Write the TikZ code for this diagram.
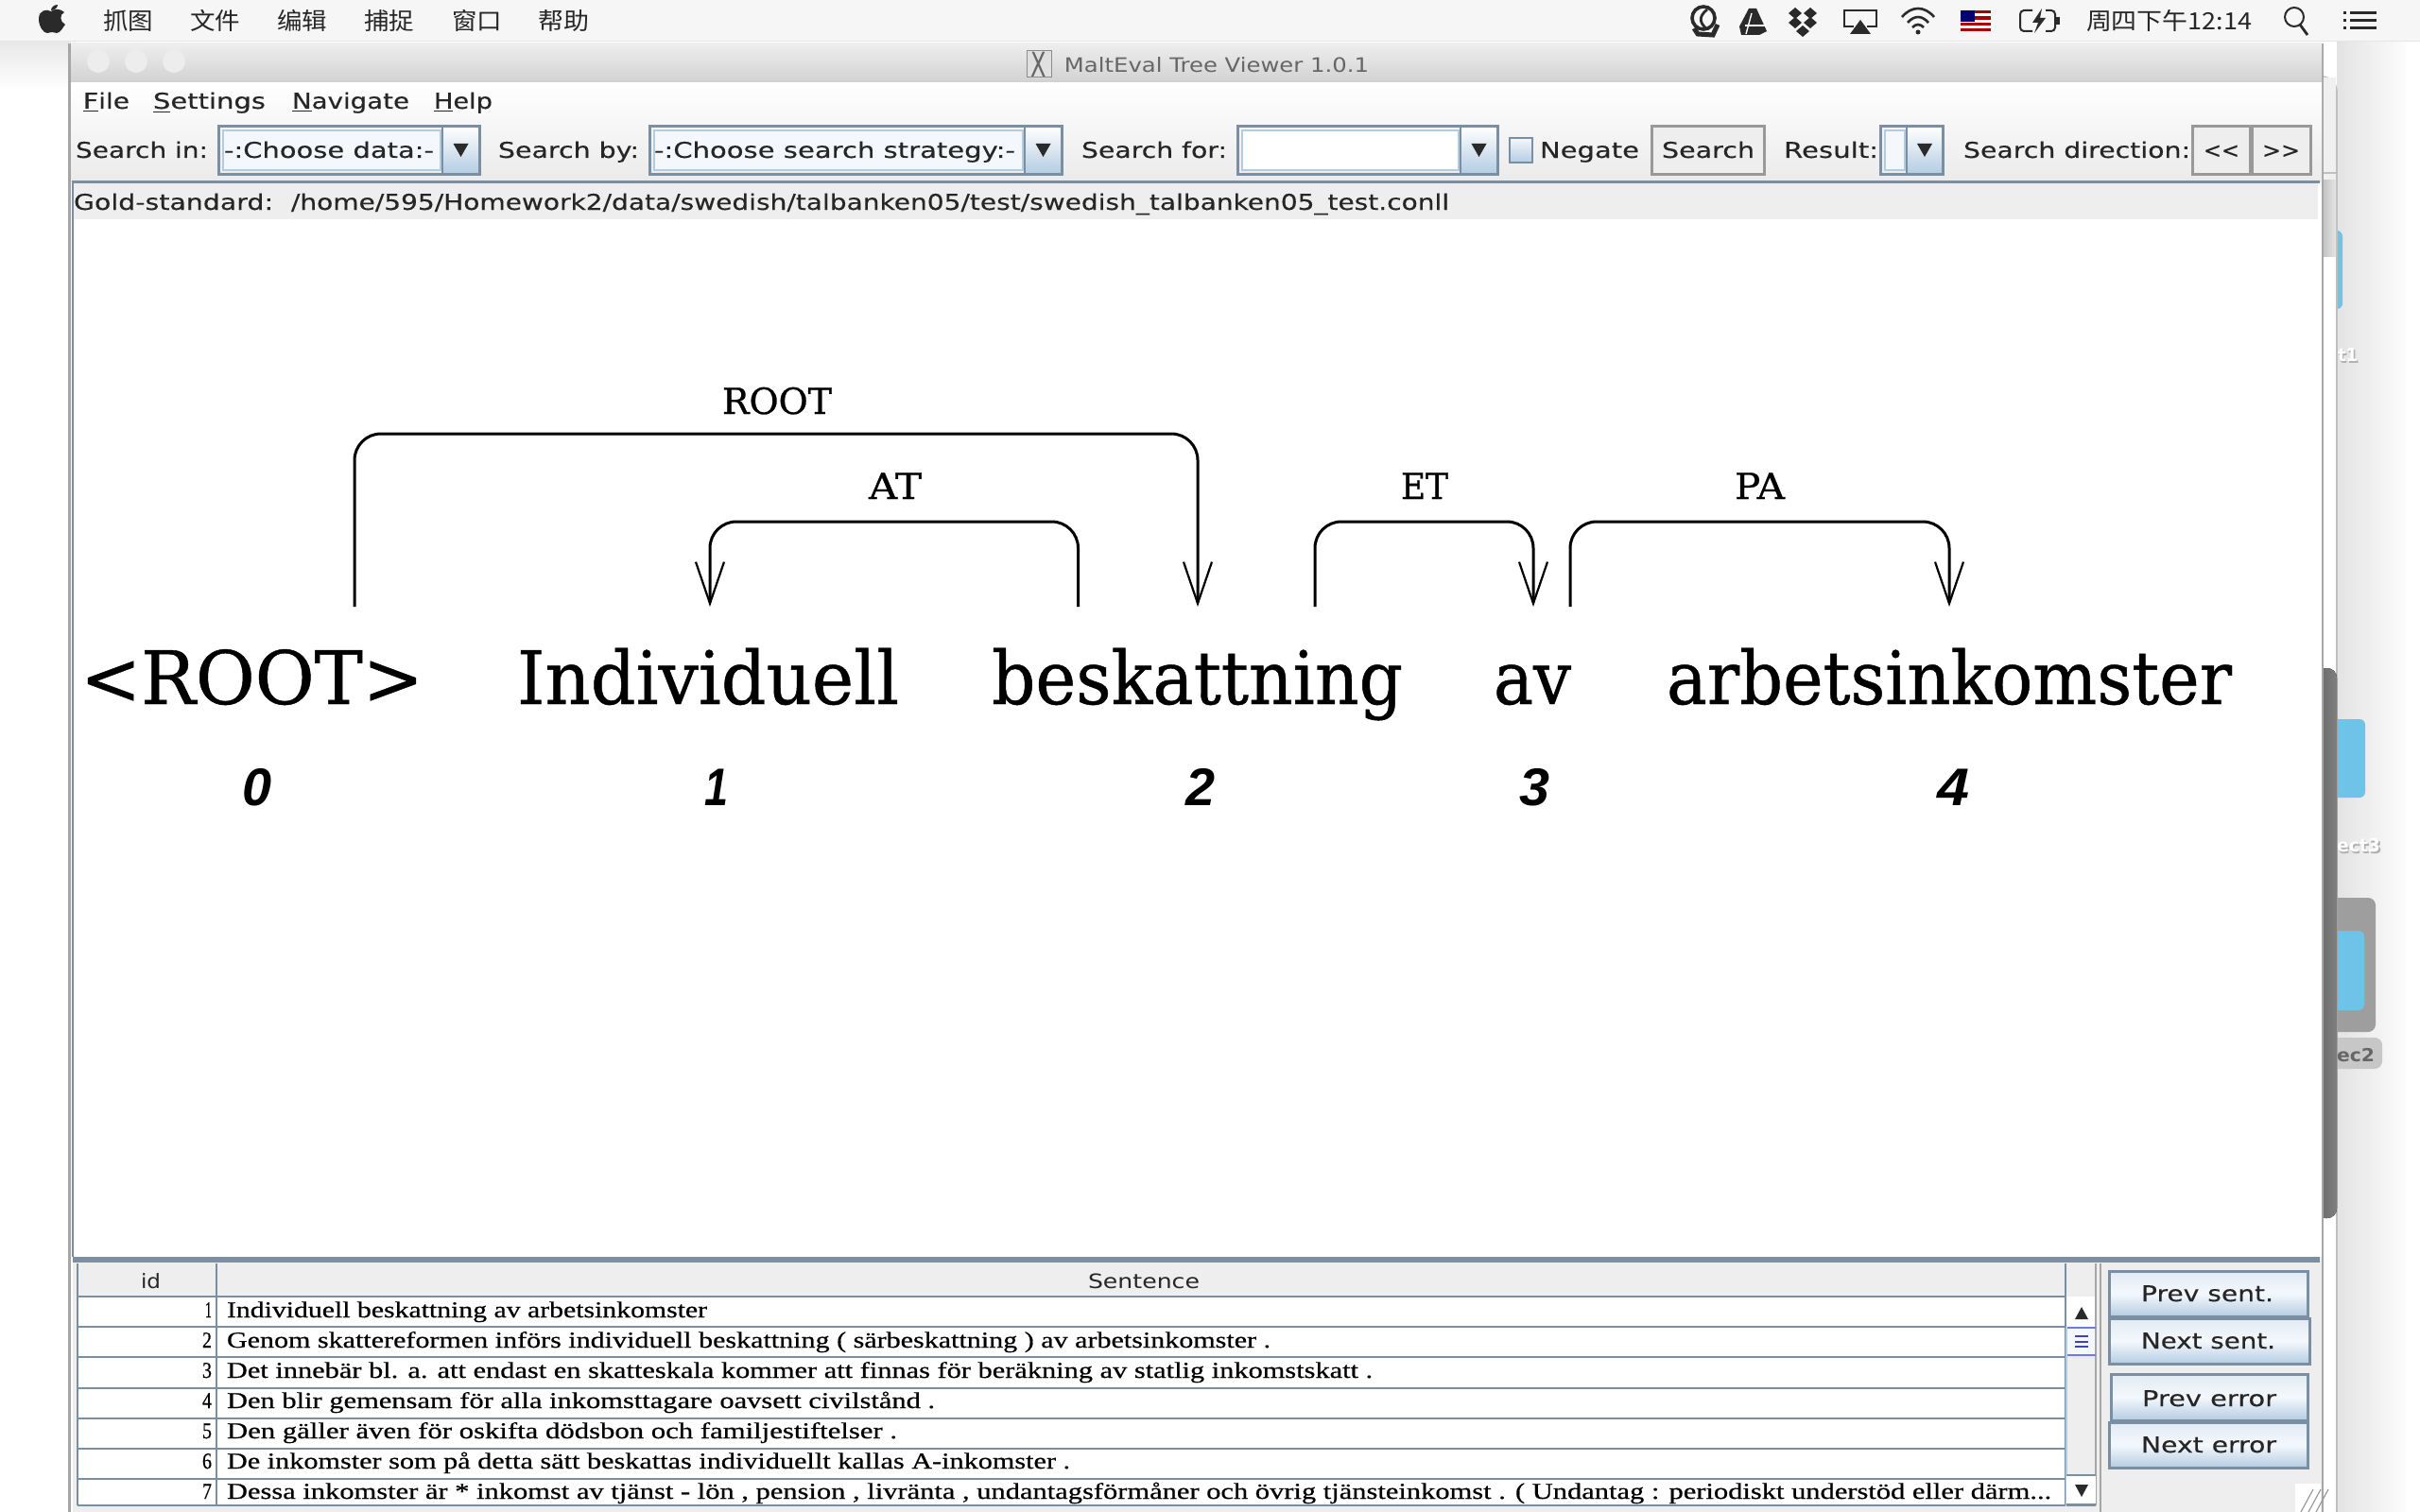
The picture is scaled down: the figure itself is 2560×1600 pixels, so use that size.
\documentclass[tikz,border=0pt]{standalone}
\usepackage{fontspec}
\usepackage{graphicx}
\usetikzlibrary{arrows.meta}
\newfontfamily\uifont[FakeBold=0.25]{DejaVu Sans}
\newfontfamily\plainuifont{DejaVu Sans}
\newfontfamily\cjkfont{Noto Sans CJK SC}
\newfontfamily\tabfont[FakeBold=0.5]{Liberation Serif}
\newfontfamily\bigfont[FakeBold=0.6]{DejaVu Serif}
\newfontfamily\labelfont[FakeBold=0.7]{DejaVu Serif}
\newfontfamily\numfont{Liberation Sans}
\definecolor{bord}{HTML}{7B8FA3}
\definecolor{oceanA}{HTML}{F4F8FC}
\definecolor{oceanB}{HTML}{B4CCE2}
\definecolor{panel}{HTML}{EEEEEE}
\definecolor{iconk}{HTML}{2A2A2A}
\definecolor{folder}{HTML}{6FC3E8}
\newcommand\ftext[6]{\pgfmathsetlengthmacro\fw{(#4-#3)*0.5}\node[anchor=base,inner sep=0pt,outer sep=0pt,#1] (#2) at ({(#3+#4)/2},#5) {\resizebox{\fw}{\height}{#6}};}
\newcommand\combo[6]{%
 \path[fill=#5,draw=oceanB,line width=1.2pt] (#2+5,138) rectangle (#3-2,180);
 \draw[bord,line width=1.5pt] (#2,134) rectangle (#4,184);
 \draw[bord,line width=1.2pt,top color=white,bottom color=oceanB] (#3,134) rectangle (#4,184);
 \fill[iconk] ({(#3+#4)/2-8},152) -- ({(#3+#4)/2+8},152) -- ({(#3+#4)/2},166) -- cycle;
 \coordinate (#1) at (#2,134);}
\newcommand\gbtn[5]{\draw[bord,line width=1.5pt,top color=oceanA!70!oceanB,bottom color=oceanB,middle color=oceanA] (#2,#4) rectangle (#3,#5);\coordinate (#1) at (#2,#4);}
\newcommand\pbtn[5]{\fill[white] (#2+2,#5+2) rectangle (#3+2,#4+4);\draw[black!40,line width=1.5pt,fill=panel] (#2,#4) rectangle (#3,#5);\coordinate (#1) at (#2,#4);}
\tikzset{
 ui/.style={font=\uifont\fontsize{11.5}{14}\selectfont,text=black!85},
 titlet/.style={font=\plainuifont\fontsize{10.5}{13}\selectfont,text=black!60},
 cjk/.style={font=\cjkfont\fontsize{12.5}{15}\selectfont,text=black!85},
 tabt/.style={font=\tabfont\fontsize{12}{14}\selectfont,text=black},
 bigword/.style={font=\bigfont\fontsize{39}{44}\selectfont,text=black},
 deplabel/.style={font=\labelfont\fontsize{19}{22}\selectfont,text=black},
 idxnum/.style={font=\numfont\bfseries\itshape\fontsize{28}{32}\selectfont,text=black},
 deskt/.style={font=\plainuifont\bfseries\fontsize{9.5}{11}\selectfont},
 dep/.style={draw=black,line width=1.5pt,rounded corners=14pt,line cap=butt},
 deparrow/.style={dep,-{Straight Barb[length=22pt,width=15pt,line width=1.1pt]}},
 icon/.style={draw=iconk,line width=1.2pt,fill=none},
 iconf/.style={fill=iconk,draw=none}
}
\begin{document}
\begin{tikzpicture}[x=0.5pt,y=-0.5pt]
\useasboundingbox (0,0) rectangle (2560,1600);
\clip (0,0) rectangle (2560,1600);
% desktop
\fill[white] (0,0) rectangle (2560,1600);
\fill[top color=black!9,bottom color=white] (0,44) rectangle (75,95);
\fill[left color=black!11,right color=black!1] (2472,44) rectangle (2545,1600);
% folders on the desktop
\fill[folder,rounded corners=3pt] (2450,244) rectangle (2478,327);
\ftext{deskt,text=black!30}{dk1s}{2474}{2496}{384}{t1}
\ftext{deskt,text=white}{dk1}{2473}{2494}{382}{t1}
\fill[folder,rounded corners=3pt] (2450,761) rectangle (2502,844);
\ftext{deskt,text=black!30}{dk2s}{2473}{2520}{903}{ect3}
\ftext{deskt,text=white}{dk2}{2472}{2518}{901}{ect3}
\fill[black!38,rounded corners=4pt] (2450,950) rectangle (2513,1092);
\fill[folder,rounded corners=3pt] (2450,985) rectangle (2501,1069);
\fill[black!22,rounded corners=4pt] (2450,1098) rectangle (2520,1131);
\ftext{deskt,text=black!60}{dk3}{2472}{2512}{1123}{ec2}
% window behind
\fill[white,rounded corners=8pt] (2440,81) rectangle (2472,1700);
\draw[black!25,line width=.8pt,rounded corners=8pt] (2440,81) -- (2472,81) -- (2472,1700);
\fill[left color=black!25,right color=black!10] (2456,190) rectangle (2471,271);
\fill[black!6] (2456,82) rectangle (2471,190);
\draw[black!25,line width=.6pt] (2456,183) -- (2472,183);
\fill[left color=black!60,right color=black!50,rounded corners=5pt] (2450,707) rectangle (2472,1289);
% menu bar
\fill[black!3.5] (0,0) rectangle (2560,44);
\draw[black!10,line width=.5pt] (0,44) -- (2560,44);
\fill[iconk] (54,12) .. controls (49,9) and (41,11) .. (41,20) .. controls (41,28) and (46,35) .. (50,35) .. controls (52,35) and (53,34) .. (55,34) .. controls (57,34) and (58,35) .. (60,35) .. controls (64,35) and (67,28) .. (69,26) .. controls (63,23) and (63,15) .. (68,13) .. controls (64,9) and (58,9) .. (54,12) -- cycle;
\fill[iconk] (54,11) .. controls (54,8) and (57,5) .. (61,5) .. controls (61,8) and (58,11) .. (54,11) -- cycle;
\ftext{cjk}{m1}{109}{162}{32}{抓图}
\ftext{cjk}{m2}{201}{254}{32}{文件}
\ftext{cjk}{m3}{293}{346}{32}{编辑}
\ftext{cjk}{m4}{385}{438}{32}{捕捉}
\ftext{cjk}{m5}{478}{531}{32}{窗口}
\ftext{cjk}{m6}{569}{623}{32}{帮助}
\ftext{cjk}{mclock}{2207}{2382}{32}{周四下午12:14}
% status icons
\draw[iconk,line width=1.8pt] (1802,19) circle (12);
\draw[iconk,line width=2.5pt] (1792,30) -- (1796,36) -- (1812,37) -- (1817,26);
\draw[iconk,line width=1.4pt] (1806,10) .. controls (1797,17) and (1797,24) .. (1806,31);
\fill[iconk] (1850,9) -- (1858,9) -- (1869,33) -- (1861,37) -- (1842,37) -- (1840,28) -- cycle;
\draw[white,line width=.7pt] (1853,14) -- (1847,36);
\draw[white,line width=.7pt] (1846,27) -- (1868,27);
\foreach \px/\py in {1899/14,1915/14,1899/24,1915/24,1907/33}{\fill[iconk] (\px,\py-6) -- (\px+7,\py) -- (\px,\py+6) -- (\px-7,\py) -- cycle;}
\draw[iconk,line width=1.2pt] (1961,28) -- (1951,28) -- (1951,11) -- (1985,11) -- (1985,28) -- (1975,28);
\fill[iconk] (1968,21) -- (1979,36) -- (1957,36) -- cycle;
\draw[iconk,line width=1.3pt] (2012,18) .. controls (2022,6) and (2036,6) .. (2046,18);
\draw[iconk,line width=1.3pt] (2018,24) .. controls (2025,16) and (2033,16) .. (2040,24);
\draw[iconk,line width=1.3pt] (2023,29) .. controls (2027,25) and (2031,25) .. (2035,29);
\fill[iconk] (2029,34) circle (2.5);
\fill[white] (2074,11) rectangle (2106,33);
\foreach \sy in {11,17.5,24,30}{\fill[red!65!black] (2074,\sy) rectangle (2106,\sy+3.2);}
\fill[blue!45!black] (2074,11) rectangle (2089,23);
\draw[iconk,line width=1pt,rounded corners=2pt] (2150,11) -- (2137,11) -- (2137,33) -- (2150,33);
\draw[iconk,line width=1pt,rounded corners=2pt] (2164,11) -- (2174,11) -- (2174,33) -- (2164,33);
\fill[iconk] (2175,18) rectangle (2179,26);
\fill[iconk] (2160,9) -- (2150,24) -- (2156,24) -- (2152,35) -- (2164,19) -- (2158,19) -- cycle;
\draw[iconk,line width=1pt] (2427,18) circle (10);
\draw[iconk,line width=1.4pt] (2433,26) -- (2441,37);
\foreach \ly in {14,22,30}{\fill[iconk] (2479,\ly-1.5) rectangle (2482,\ly+1.5);\fill[iconk] (2486,\ly-1.5) rectangle (2514,\ly+1.5);}
% main window
\fill[black!35] (72,46) rectangle (2458,1700);
\fill[white] (75,46) rectangle (2456,1700);
\fill[top color=panel,bottom color=black!18] (75,46) rectangle (2456,88);
\fill[black!7] (104,65) circle (12);
\fill[black!7] (144,65) circle (12);
\fill[black!7] (184,65) circle (12);
\draw[black!45,fill=black!12,line width=.5pt] (1086,54) rectangle (1112,82);
\node[inner sep=0pt,font=\plainuifont\fontsize{12}{14}\selectfont,text=black!60] (xicon) at (1099,68) {\scalebox{1}[1.5]{X}};
\ftext{titlet}{title}{1126}{1448}{77}{MaltEval Tree Viewer 1.0.1}
% menu + toolbar
\fill[top color=white,bottom color=black!8] (75,88) rectangle (2456,192);
\ftext{ui}{mfile}{88}{137}{115}{\underline{F}ile}
\ftext{ui}{mset}{162}{281}{115}{\underline{S}ettings}
\ftext{ui}{mnav}{309}{433}{115}{\underline{N}avigate}
\ftext{ui}{mhelp}{459}{521}{115}{\underline{H}elp}
\ftext{ui}{lin}{80}{220}{167}{Search in:}
\combo{c1}{231}{468}{507}{oceanA}{}
\ftext{ui}{t1}{237}{459}{167}{-:Choose data:-}
\ftext{ui}{lby}{527}{676}{167}{Search by:}
\combo{c2}{687}{1084}{1123}{oceanA}{}
\ftext{ui}{t2}{692}{1074}{167}{-:Choose search strategy:-}
\ftext{ui}{lfor}{1144}{1298}{167}{Search for:}
\combo{c3}{1309}{1545}{1584}{white}{}
\draw[bord,line width=1.2pt,top color=oceanA,bottom color=oceanB] (1597,146) rectangle (1621,172);
\ftext{ui}{lneg}{1629}{1734}{167}{Negate}
\pbtn{bs}{1747}{1866}{134}{184}
\ftext{ui}{tsearch}{1758}{1856}{167}{Search}
\ftext{ui}{lres}{1887}{1987}{167}{Result:}
\combo{c4}{1989}{2017}{2055}{oceanA}{}
\ftext{ui}{ldir}{2077}{2317}{167}{Search direction:}
\pbtn{bp}{2319}{2380}{134}{184}
\ftext{ui}{tl}{2331}{2369}{167}{<<}
\pbtn{bn}{2382}{2444}{134}{184}
\ftext{ui}{tg}{2393}{2433}{167}{>>}
% status
\fill[panel] (78,192) rectangle (2452,232);
\draw[bord,line width=1.5pt] (76,192.5) -- (2454,192.5);
\draw[bord,line width=1pt] (77,192) -- (77,1330);
\ftext{ui}{lgold}{78}{289}{222}{Gold-standard:}
\ftext{ui}{lpath}{308}{1533}{222}{/home/595/Homework2/data/swedish/talbanken05/test/swedish\_talbanken05\_test.conll}
% dependency tree
\coordinate (r0) at (375,642);
\coordinate (r2) at (1267,642);
\coordinate (at1) at (751,642);
\coordinate (at2) at (1140.5,642);
\coordinate (et2) at (1391,642);
\coordinate (et3) at (1622,642);
\coordinate (pa3) at (1661,642);
\coordinate (pa4) at (2062,642);
\draw[deparrow] (r0) -- ++(0,-183) -| (r2);
\draw[deparrow] (at2) -- ++(0,-90) -| (at1);
\draw[deparrow] (et2) -- ++(0,-90) -| (et3);
\draw[deparrow] (pa3) -- ++(0,-90) -| (pa4);
\ftext{deplabel}{lroot}{764}{880}{438}{ROOT}
\ftext{deplabel}{lat}{919}{975}{528}{AT}
\ftext{deplabel}{let}{1482}{1532}{528}{ET}
\ftext{deplabel}{lpa}{1835}{1888}{528}{PA}
\ftext{bigword}{w0}{85}{448}{745}{<ROOT>}
\ftext{bigword}{w1}{547}{951}{745}{Individuell}
\ftext{bigword}{w2}{1049}{1484}{745}{beskattning}
\ftext{bigword}{w3}{1580}{1662}{745}{av}
\ftext{bigword}{w4}{1763}{2361}{745}{arbetsinkomster}
\ftext{idxnum}{n0}{256}{287}{852}{0}
\ftext{idxnum}{n1}{745}{770}{852}{1}
\ftext{idxnum}{n2}{1254}{1285}{852}{2}
\ftext{idxnum}{n3}{1607}{1639}{852}{3}
\ftext{idxnum}{n4}{2049}{2083}{852}{4}
% bottom panel
\fill[panel] (77,1330) rectangle (2456,1600);
\fill[bord] (77,1330) rectangle (2454,1336);
\fill[white] (82,1372) rectangle (2185,1593);
\foreach \ry in {1372,1404,1436,1468.5,1500.5,1532.5,1564.5,1593}{\draw[bord,line width=1pt] (82,\ry) -- (2185,\ry);}
\draw[bord,line width=1pt] (229,1337) -- (229,1593);
\draw[bord,line width=1pt] (82,1337) -- (82,1593);
\draw[bord,line width=1pt] (2185,1337) -- (2185,1593);
\ftext{ui,font=\plainuifont\fontsize{10.5}{13}\selectfont}{hid}{149}{170}{1363}{id}
\ftext{ui,font=\plainuifont\fontsize{10.5}{13}\selectfont}{hsent}{1151}{1269}{1363}{Sentence}
\ftext{tabt}{r1}{240}{748}{1394}{Individuell beskattning av arbetsinkomster}
\ftext{tabt}{r2}{240}{1344}{1426}{Genom skattereformen införs individuell beskattning ( särbeskattning ) av arbetsinkomster .}
\ftext{tabt}{r3}{240}{1452}{1458}{Det innebär bl. a. att endast en skatteskala kommer att finnas för beräkning av statlig inkomstskatt .}
\ftext{tabt}{r4}{240}{989}{1490}{Den blir gemensam för alla inkomsttagare oavsett civilstånd .}
\ftext{tabt}{r5}{240}{949}{1522}{Den gäller även för oskifta dödsbon och familjestiftelser .}
\ftext{tabt}{r6}{240}{1132}{1554}{De inkomster som på detta sätt beskattas individuellt kallas A-inkomster .}
\ftext{tabt}{r7}{240}{2170}{1586}{Dessa inkomster är * inkomst av tjänst - lön , pension , livränta , undantagsförmåner och övrig tjänsteinkomst . ( Undantag : periodiskt understöd eller därm...}
\ftext{tabt}{i1}{217}{224}{1394}{1}
\ftext{tabt}{i2}{214}{224}{1426}{2}
\ftext{tabt}{i3}{214}{224}{1458}{3}
\ftext{tabt}{i4}{214}{224}{1490}{4}
\ftext{tabt}{i5}{214}{224}{1522}{5}
\ftext{tabt}{i6}{214}{224}{1554}{6}
\ftext{tabt}{i7}{214}{224}{1586}{7}
% scrollbar
\fill[panel] (2186,1337) rectangle (2217,1593);
\fill[white] (2186,1372) rectangle (2217,1405);
\draw[oceanB,line width=.8pt] (2186,1405) -- (2186,1593);
\draw[black!35,line width=.8pt] (2217,1337) -- (2217,1593);
\draw[black!35,line width=.8pt] (2222,1337) -- (2222,1600);
\fill[iconk] (2195,1396) -- (2209,1396) -- (2202,1383) -- cycle;
\draw[blue!40!oceanB,line width=1.2pt] (2187,1405) -- (2217,1405) (2187,1434) -- (2217,1434);
\fill[oceanA] (2187,1406) rectangle (2216,1433);
\foreach \gy in {1414,1419.5,1425}{\draw[blue!50!gray,line width=1pt] (2195,\gy) -- (2209,\gy);}
\draw[bord,line width=.8pt] (2186,1561) -- (2217,1561);
\fill[white] (2186,1562) rectangle (2217,1593);
\fill[iconk] (2195,1571) -- (2209,1571) -- (2202,1584) -- cycle;
\fill[bord] (2186,1591) rectangle (2217,1594);
% side buttons
\gbtn{b1}{2231}{2441}{1345}{1393}
\gbtn{b2}{2231}{2443}{1395}{1443}
\gbtn{b3}{2233}{2441}{1454}{1503}
\gbtn{b4}{2231}{2441}{1505}{1553}
\ftext{ui}{tb1}{2265}{2405}{1377}{Prev sent.}
\ftext{ui}{tb2}{2265}{2407}{1427}{Next sent.}
\ftext{ui}{tb3}{2266}{2408}{1488}{Prev error}
\ftext{ui}{tb4}{2265}{2408}{1537}{Next error}
% resize grip
\fill[white] (2428,1570) rectangle (2455,1600);
\foreach \gx in {2434,2442,2450}{\draw[black!40,line width=.6pt] (\gx,1600) -- (\gx+13,1576);}
\end{tikzpicture}
\end{document}
